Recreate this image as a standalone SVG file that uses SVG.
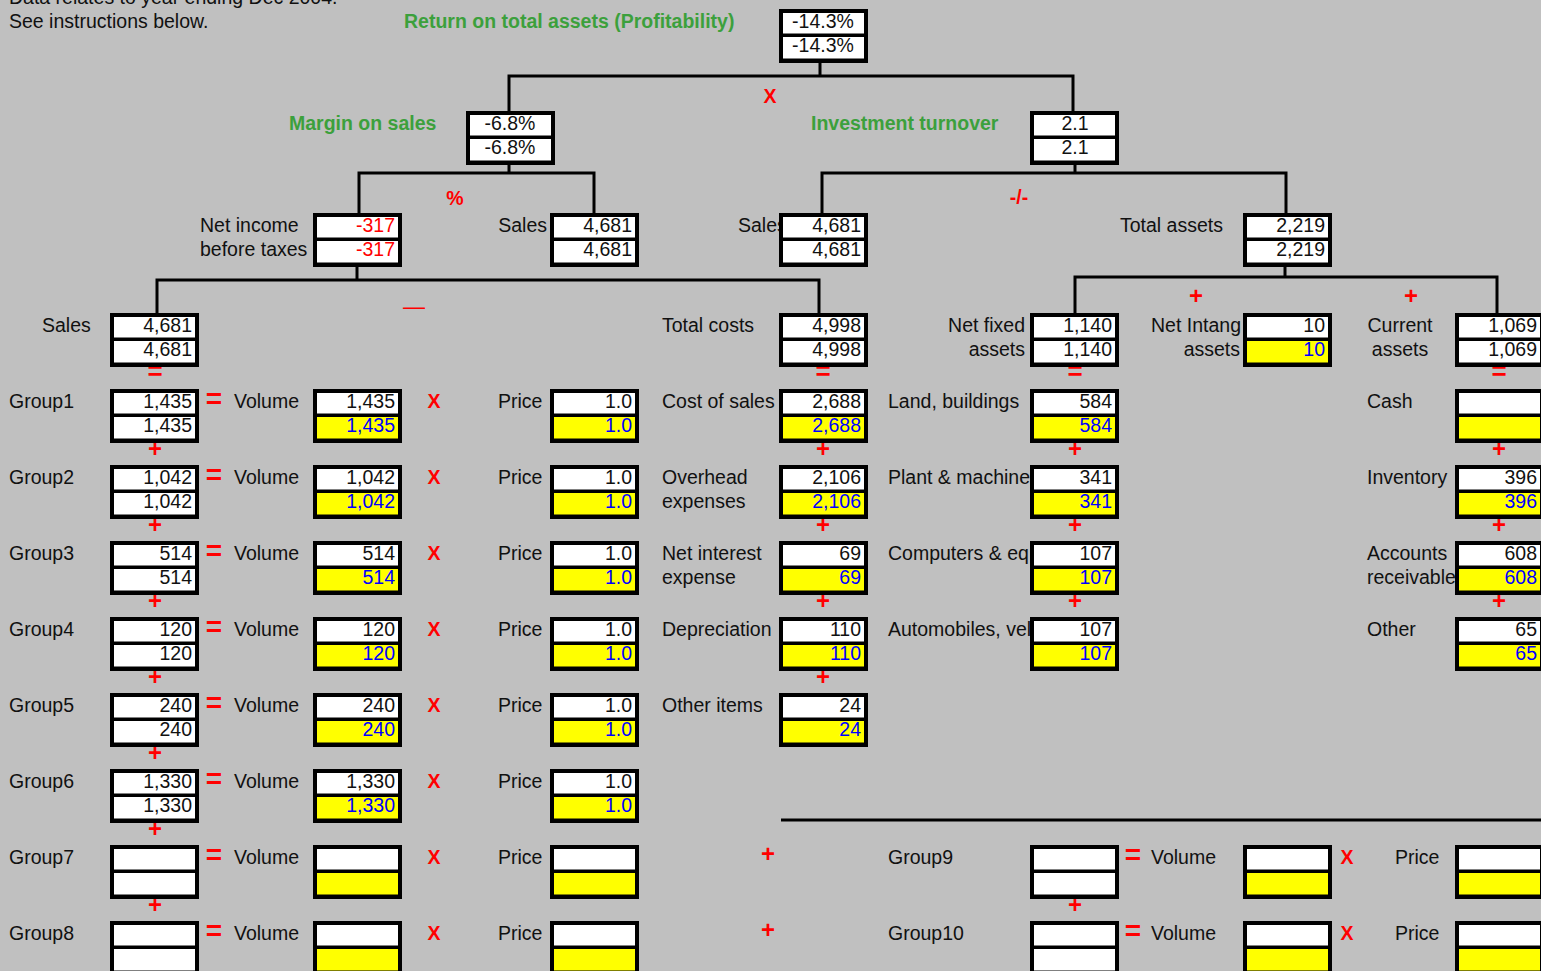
<svg xmlns="http://www.w3.org/2000/svg" width="1541" height="971" viewBox="0 0 1541 971">
<style>
text{font-family:"Liberation Sans",Arial,sans-serif;font-size:19.5px;fill:#111}
.fr{fill:#000}
.w{fill:#fff}
.y{fill:#ffff00}
.val{text-anchor:end}
.ctr{text-anchor:middle}
.blue{fill:#0000ff}
.red{fill:#ff0000}
.end{text-anchor:end}
.mid{text-anchor:middle}
.title{fill:#3ca03c;font-weight:bold}
.op{fill:#ff0000;font-weight:bold;text-anchor:middle}
.eq{font-size:28px}
.eqs{font-size:26px}
.pl{font-size:24px}
.conn{stroke:#000;stroke-width:3;fill:none}
</style>
<rect x="0" y="0" width="1541" height="971" fill="#c0c0c0"/>

<g id="header">
<text x="9" y="4">Data relates to year ending Dec 2004.</text>
<text x="9" y="28">See instructions below.</text>
<text class="title" x="404" y="28">Return on total assets (Profitability)</text>
<text class="title" x="289" y="130">Margin on sales</text>
<text class="title" x="811" y="130">Investment turnover</text>
</g>

<g id="connectors">
<path class="conn" d="M820,63 V76 M509,111 V76 H1073 V111"/>
<path class="conn" d="M509,164 V173 M359,213 V173 H594 V213"/>
<path class="conn" d="M1075,164 V173 M822,213 V173 H1286 V213"/>
<path class="conn" d="M357,266 V280 M157,313 V280 H819 V313"/>
<path class="conn" d="M1285,266 V277 M1075,313 V277 H1497 V313"/>
<path class="conn" d="M781,820 H1541"/>
</g>

<g id="operators">
<text class="op" x="770" y="103">X</text>
<text class="op" x="455" y="205">%</text>
<text class="op" x="1019" y="204">-/-</text>
<text class="op" x="414" y="314" style="font-size:22px;font-weight:normal">—</text>
<text class="op pl" x="1196" y="304">+</text>
<text class="op pl" x="1411" y="304">+</text>
<text class="op eqs" x="155" y="380">=</text>
<text class="op eqs" x="823" y="380">=</text>
<text class="op eqs" x="1075" y="380">=</text>
<text class="op eqs" x="1499" y="380">=</text>
<text class="op pl" x="155" y="457">+</text>
<text class="op pl" x="155" y="533">+</text>
<text class="op pl" x="155" y="609">+</text>
<text class="op pl" x="155" y="685">+</text>
<text class="op pl" x="155" y="761">+</text>
<text class="op pl" x="155" y="837">+</text>
<text class="op pl" x="155" y="913">+</text>
<text class="op pl" x="823" y="457">+</text>
<text class="op pl" x="823" y="533">+</text>
<text class="op pl" x="823" y="609">+</text>
<text class="op pl" x="823" y="685">+</text>
<text class="op pl" x="1075" y="457">+</text>
<text class="op pl" x="1075" y="533">+</text>
<text class="op pl" x="1075" y="609">+</text>
<text class="op pl" x="1075" y="913">+</text>
<text class="op pl" x="1499" y="457">+</text>
<text class="op pl" x="1499" y="533">+</text>
<text class="op pl" x="1499" y="609">+</text>
<text class="op pl" x="768" y="862">+</text>
<text class="op pl" x="768" y="938">+</text>
<text class="op eq" x="214" y="408">=</text>
<text class="op eq" x="214" y="484">=</text>
<text class="op eq" x="214" y="560">=</text>
<text class="op eq" x="214" y="636">=</text>
<text class="op eq" x="214" y="712">=</text>
<text class="op eq" x="214" y="788">=</text>
<text class="op eq" x="214" y="864">=</text>
<text class="op eq" x="214" y="940">=</text>
<text class="op eq" x="1133" y="864">=</text>
<text class="op eq" x="1133" y="940">=</text>
<text class="op" x="434" y="408">X</text>
<text class="op" x="434" y="484">X</text>
<text class="op" x="434" y="560">X</text>
<text class="op" x="434" y="636">X</text>
<text class="op" x="434" y="712">X</text>
<text class="op" x="434" y="788">X</text>
<text class="op" x="434" y="864">X</text>
<text class="op" x="434" y="940">X</text>
<text class="op" x="1347" y="864">X</text>
<text class="op" x="1347" y="940">X</text>
</g>

<!-- Level 0 -->
<g id="n-roa">
<rect class="fr" x="779" y="9" width="89" height="54"/><rect class="w" x="783" y="13" width="81" height="20.5"/><rect class="w" x="783" y="37" width="81" height="21.5"/>
<text class="ctr" x="823" y="28">-14.3%</text><text class="ctr" x="823" y="52">-14.3%</text>
</g>

<!-- Level 1 -->
<g id="n-margin">
<rect class="fr" x="466" y="111" width="89" height="54"/><rect class="w" x="470" y="115" width="81" height="20.5"/><rect class="w" x="470" y="139" width="81" height="21.5"/>
<text class="ctr" x="510" y="130">-6.8%</text><text class="ctr" x="510" y="154">-6.8%</text>
</g>
<g id="n-turnover">
<rect class="fr" x="1030" y="111" width="89" height="54"/><rect class="w" x="1034" y="115" width="81" height="20.5"/><rect class="w" x="1034" y="139" width="81" height="21.5"/>
<text class="ctr" x="1075" y="130">2.1</text><text class="ctr" x="1075" y="154">2.1</text>
</g>

<!-- Level 2 -->
<g id="n-netincome">
<text x="200" y="232">Net income</text><text x="200" y="256">before taxes</text>
<rect class="fr" x="313" y="213" width="89" height="54"/><rect class="w" x="317" y="217" width="81" height="20.5"/><rect class="w" x="317" y="241" width="81" height="21.5"/>
<text class="val red" x="395" y="232">-317</text><text class="val red" x="395" y="256">-317</text>
</g>
<g id="n-sales-a">
<text class="end" x="547" y="232">Sales</text>
<rect class="fr" x="550" y="213" width="89" height="54"/><rect class="w" x="554" y="217" width="81" height="20.5"/><rect class="w" x="554" y="241" width="81" height="21.5"/>
<text class="val" x="632" y="232">4,681</text><text class="val" x="632" y="256">4,681</text>
</g>
<g id="n-sales-b">
<text x="738" y="232">Sales</text>
<rect class="fr" x="779" y="213" width="89" height="54"/><rect class="w" x="783" y="217" width="81" height="20.5"/><rect class="w" x="783" y="241" width="81" height="21.5"/>
<text class="val" x="861" y="232">4,681</text><text class="val" x="861" y="256">4,681</text>
</g>
<g id="n-totalassets">
<text x="1120" y="232">Total assets</text>
<rect class="fr" x="1243" y="213" width="89" height="54"/><rect class="w" x="1247" y="217" width="81" height="20.5"/><rect class="w" x="1247" y="241" width="81" height="21.5"/>
<text class="val" x="1325" y="232">2,219</text><text class="val" x="1325" y="256">2,219</text>
</g>

<!-- Level 3 -->
<g id="n-sales">
<text x="42" y="332">Sales</text>
<rect class="fr" x="110" y="313" width="89" height="54"/><rect class="w" x="114" y="317" width="81" height="20.5"/><rect class="w" x="114" y="341" width="81" height="21.5"/>
<text class="val" x="192" y="332">4,681</text><text class="val" x="192" y="356">4,681</text>
</g>
<g id="n-totalcosts">
<text x="662" y="332">Total costs</text>
<rect class="fr" x="779" y="313" width="89" height="54"/><rect class="w" x="783" y="317" width="81" height="20.5"/><rect class="w" x="783" y="341" width="81" height="21.5"/>
<text class="val" x="861" y="332">4,998</text><text class="val" x="861" y="356">4,998</text>
</g>
<g id="n-netfixed">
<text class="end" x="1025" y="332">Net fixed</text><text class="end" x="1025" y="356">assets</text>
<rect class="fr" x="1030" y="313" width="89" height="54"/><rect class="w" x="1034" y="317" width="81" height="20.5"/><rect class="w" x="1034" y="341" width="81" height="21.5"/>
<text class="val" x="1112" y="332">1,140</text><text class="val" x="1112" y="356">1,140</text>
</g>
<g id="n-netintang">
<text x="1151" y="332">Net Intang</text><text class="end" x="1240" y="356">assets</text>
<rect class="fr" x="1243" y="313" width="89" height="54"/><rect class="w" x="1247" y="317" width="81" height="20.5"/><rect class="y" x="1247" y="341" width="81" height="21.5"/>
<text class="val" x="1325" y="332">10</text><text class="val blue" x="1325" y="356">10</text>
</g>
<g id="n-current">
<text class="mid" x="1400" y="332">Current</text><text class="mid" x="1400" y="356">assets</text>
<rect class="fr" x="1455" y="313" width="89" height="54"/><rect class="w" x="1459" y="317" width="81" height="20.5"/><rect class="w" x="1459" y="341" width="81" height="21.5"/>
<text class="val" x="1537" y="332">1,069</text><text class="val" x="1537" y="356">1,069</text>
</g>

<!-- Sales groups -->
<g id="n-group1">
<text x="9" y="408">Group1</text>
<rect class="fr" x="110" y="389" width="89" height="54"/><rect class="w" x="114" y="393" width="81" height="20.5"/><rect class="w" x="114" y="417" width="81" height="21.5"/>
<text class="val" x="192" y="408">1,435</text><text class="val" x="192" y="432">1,435</text>
</g>
<g id="n-volume1">
<text x="234" y="408">Volume</text>
<rect class="fr" x="313" y="389" width="89" height="54"/><rect class="w" x="317" y="393" width="81" height="20.5"/><rect class="y" x="317" y="417" width="81" height="21.5"/>
<text class="val" x="395" y="408">1,435</text><text class="val blue" x="395" y="432">1,435</text>
</g>
<g id="n-price1">
<text x="498" y="408">Price</text>
<rect class="fr" x="550" y="389" width="89" height="54"/><rect class="w" x="554" y="393" width="81" height="20.5"/><rect class="y" x="554" y="417" width="81" height="21.5"/>
<text class="val" x="632" y="408">1.0</text><text class="val blue" x="632" y="432">1.0</text>
</g>

<g id="n-group2">
<text x="9" y="484">Group2</text>
<rect class="fr" x="110" y="465" width="89" height="54"/><rect class="w" x="114" y="469" width="81" height="20.5"/><rect class="w" x="114" y="493" width="81" height="21.5"/>
<text class="val" x="192" y="484">1,042</text><text class="val" x="192" y="508">1,042</text>
</g>
<g id="n-volume2">
<text x="234" y="484">Volume</text>
<rect class="fr" x="313" y="465" width="89" height="54"/><rect class="w" x="317" y="469" width="81" height="20.5"/><rect class="y" x="317" y="493" width="81" height="21.5"/>
<text class="val" x="395" y="484">1,042</text><text class="val blue" x="395" y="508">1,042</text>
</g>
<g id="n-price2">
<text x="498" y="484">Price</text>
<rect class="fr" x="550" y="465" width="89" height="54"/><rect class="w" x="554" y="469" width="81" height="20.5"/><rect class="y" x="554" y="493" width="81" height="21.5"/>
<text class="val" x="632" y="484">1.0</text><text class="val blue" x="632" y="508">1.0</text>
</g>

<g id="n-group3">
<text x="9" y="560">Group3</text>
<rect class="fr" x="110" y="541" width="89" height="54"/><rect class="w" x="114" y="545" width="81" height="20.5"/><rect class="w" x="114" y="569" width="81" height="21.5"/>
<text class="val" x="192" y="560">514</text><text class="val" x="192" y="584">514</text>
</g>
<g id="n-volume3">
<text x="234" y="560">Volume</text>
<rect class="fr" x="313" y="541" width="89" height="54"/><rect class="w" x="317" y="545" width="81" height="20.5"/><rect class="y" x="317" y="569" width="81" height="21.5"/>
<text class="val" x="395" y="560">514</text><text class="val blue" x="395" y="584">514</text>
</g>
<g id="n-price3">
<text x="498" y="560">Price</text>
<rect class="fr" x="550" y="541" width="89" height="54"/><rect class="w" x="554" y="545" width="81" height="20.5"/><rect class="y" x="554" y="569" width="81" height="21.5"/>
<text class="val" x="632" y="560">1.0</text><text class="val blue" x="632" y="584">1.0</text>
</g>

<g id="n-group4">
<text x="9" y="636">Group4</text>
<rect class="fr" x="110" y="617" width="89" height="54"/><rect class="w" x="114" y="621" width="81" height="20.5"/><rect class="w" x="114" y="645" width="81" height="21.5"/>
<text class="val" x="192" y="636">120</text><text class="val" x="192" y="660">120</text>
</g>
<g id="n-volume4">
<text x="234" y="636">Volume</text>
<rect class="fr" x="313" y="617" width="89" height="54"/><rect class="w" x="317" y="621" width="81" height="20.5"/><rect class="y" x="317" y="645" width="81" height="21.5"/>
<text class="val" x="395" y="636">120</text><text class="val blue" x="395" y="660">120</text>
</g>
<g id="n-price4">
<text x="498" y="636">Price</text>
<rect class="fr" x="550" y="617" width="89" height="54"/><rect class="w" x="554" y="621" width="81" height="20.5"/><rect class="y" x="554" y="645" width="81" height="21.5"/>
<text class="val" x="632" y="636">1.0</text><text class="val blue" x="632" y="660">1.0</text>
</g>

<g id="n-group5">
<text x="9" y="712">Group5</text>
<rect class="fr" x="110" y="693" width="89" height="54"/><rect class="w" x="114" y="697" width="81" height="20.5"/><rect class="w" x="114" y="721" width="81" height="21.5"/>
<text class="val" x="192" y="712">240</text><text class="val" x="192" y="736">240</text>
</g>
<g id="n-volume5">
<text x="234" y="712">Volume</text>
<rect class="fr" x="313" y="693" width="89" height="54"/><rect class="w" x="317" y="697" width="81" height="20.5"/><rect class="y" x="317" y="721" width="81" height="21.5"/>
<text class="val" x="395" y="712">240</text><text class="val blue" x="395" y="736">240</text>
</g>
<g id="n-price5">
<text x="498" y="712">Price</text>
<rect class="fr" x="550" y="693" width="89" height="54"/><rect class="w" x="554" y="697" width="81" height="20.5"/><rect class="y" x="554" y="721" width="81" height="21.5"/>
<text class="val" x="632" y="712">1.0</text><text class="val blue" x="632" y="736">1.0</text>
</g>

<g id="n-group6">
<text x="9" y="788">Group6</text>
<rect class="fr" x="110" y="769" width="89" height="54"/><rect class="w" x="114" y="773" width="81" height="20.5"/><rect class="w" x="114" y="797" width="81" height="21.5"/>
<text class="val" x="192" y="788">1,330</text><text class="val" x="192" y="812">1,330</text>
</g>
<g id="n-volume6">
<text x="234" y="788">Volume</text>
<rect class="fr" x="313" y="769" width="89" height="54"/><rect class="w" x="317" y="773" width="81" height="20.5"/><rect class="y" x="317" y="797" width="81" height="21.5"/>
<text class="val" x="395" y="788">1,330</text><text class="val blue" x="395" y="812">1,330</text>
</g>
<g id="n-price6">
<text x="498" y="788">Price</text>
<rect class="fr" x="550" y="769" width="89" height="54"/><rect class="w" x="554" y="773" width="81" height="20.5"/><rect class="y" x="554" y="797" width="81" height="21.5"/>
<text class="val" x="632" y="788">1.0</text><text class="val blue" x="632" y="812">1.0</text>
</g>

<g id="n-group7">
<text x="9" y="864">Group7</text>
<rect class="fr" x="110" y="845" width="89" height="54"/><rect class="w" x="114" y="849" width="81" height="20.5"/><rect class="w" x="114" y="873" width="81" height="21.5"/>
</g>
<g id="n-volume7">
<text x="234" y="864">Volume</text>
<rect class="fr" x="313" y="845" width="89" height="54"/><rect class="w" x="317" y="849" width="81" height="20.5"/><rect class="y" x="317" y="873" width="81" height="21.5"/>
</g>
<g id="n-price7">
<text x="498" y="864">Price</text>
<rect class="fr" x="550" y="845" width="89" height="54"/><rect class="w" x="554" y="849" width="81" height="20.5"/><rect class="y" x="554" y="873" width="81" height="21.5"/>
</g>

<g id="n-group8">
<text x="9" y="940">Group8</text>
<rect class="fr" x="110" y="921" width="89" height="54"/><rect class="w" x="114" y="925" width="81" height="20.5"/><rect class="w" x="114" y="949" width="81" height="21.5"/>
</g>
<g id="n-volume8">
<text x="234" y="940">Volume</text>
<rect class="fr" x="313" y="921" width="89" height="54"/><rect class="w" x="317" y="925" width="81" height="20.5"/><rect class="y" x="317" y="949" width="81" height="21.5"/>
</g>
<g id="n-price8">
<text x="498" y="940">Price</text>
<rect class="fr" x="550" y="921" width="89" height="54"/><rect class="w" x="554" y="925" width="81" height="20.5"/><rect class="y" x="554" y="949" width="81" height="21.5"/>
</g>

<!-- Cost items -->
<g id="n-costofsales">
<text x="662" y="408">Cost of sales</text>
<rect class="fr" x="779" y="389" width="89" height="54"/><rect class="w" x="783" y="393" width="81" height="20.5"/><rect class="y" x="783" y="417" width="81" height="21.5"/>
<text class="val" x="861" y="408">2,688</text><text class="val blue" x="861" y="432">2,688</text>
</g>
<g id="n-overhead">
<text x="662" y="484">Overhead</text><text x="662" y="508">expenses</text>
<rect class="fr" x="779" y="465" width="89" height="54"/><rect class="w" x="783" y="469" width="81" height="20.5"/><rect class="y" x="783" y="493" width="81" height="21.5"/>
<text class="val" x="861" y="484">2,106</text><text class="val blue" x="861" y="508">2,106</text>
</g>
<g id="n-netinterest">
<text x="662" y="560">Net interest</text><text x="662" y="584">expense</text>
<rect class="fr" x="779" y="541" width="89" height="54"/><rect class="w" x="783" y="545" width="81" height="20.5"/><rect class="y" x="783" y="569" width="81" height="21.5"/>
<text class="val" x="861" y="560">69</text><text class="val blue" x="861" y="584">69</text>
</g>
<g id="n-depreciation">
<text x="662" y="636">Depreciation</text>
<rect class="fr" x="779" y="617" width="89" height="54"/><rect class="w" x="783" y="621" width="81" height="20.5"/><rect class="y" x="783" y="645" width="81" height="21.5"/>
<text class="val" x="861" y="636">110</text><text class="val blue" x="861" y="660">110</text>
</g>
<g id="n-otheritems">
<text x="662" y="712">Other items</text>
<rect class="fr" x="779" y="693" width="89" height="54"/><rect class="w" x="783" y="697" width="81" height="20.5"/><rect class="y" x="783" y="721" width="81" height="21.5"/>
<text class="val" x="861" y="712">24</text><text class="val blue" x="861" y="736">24</text>
</g>

<!-- Fixed assets -->
<g id="n-land">
<text x="888" y="408">Land, buildings</text>
<rect class="fr" x="1030" y="389" width="89" height="54"/><rect class="w" x="1034" y="393" width="81" height="20.5"/><rect class="y" x="1034" y="417" width="81" height="21.5"/>
<text class="val" x="1112" y="408">584</text><text class="val blue" x="1112" y="432">584</text>
</g>
<g id="n-plant">
<text x="888" y="484">Plant &amp; machine</text>
<rect class="fr" x="1030" y="465" width="89" height="54"/><rect class="w" x="1034" y="469" width="81" height="20.5"/><rect class="y" x="1034" y="493" width="81" height="21.5"/>
<text class="val" x="1112" y="484">341</text><text class="val blue" x="1112" y="508">341</text>
</g>
<g id="n-computers">
<text x="888" y="560">Computers &amp; eq</text>
<rect class="fr" x="1030" y="541" width="89" height="54"/><rect class="w" x="1034" y="545" width="81" height="20.5"/><rect class="y" x="1034" y="569" width="81" height="21.5"/>
<text class="val" x="1112" y="560">107</text><text class="val blue" x="1112" y="584">107</text>
</g>
<g id="n-automobiles">
<text x="888" y="636">Automobiles, vel</text>
<rect class="fr" x="1030" y="617" width="89" height="54"/><rect class="w" x="1034" y="621" width="81" height="20.5"/><rect class="y" x="1034" y="645" width="81" height="21.5"/>
<text class="val" x="1112" y="636">107</text><text class="val blue" x="1112" y="660">107</text>
</g>

<!-- Current assets -->
<g id="n-cash">
<text x="1367" y="408">Cash</text>
<rect class="fr" x="1455" y="389" width="89" height="54"/><rect class="w" x="1459" y="393" width="81" height="20.5"/><rect class="y" x="1459" y="417" width="81" height="21.5"/>
</g>
<g id="n-inventory">
<text x="1367" y="484">Inventory</text>
<rect class="fr" x="1455" y="465" width="89" height="54"/><rect class="w" x="1459" y="469" width="81" height="20.5"/><rect class="y" x="1459" y="493" width="81" height="21.5"/>
<text class="val" x="1537" y="484">396</text><text class="val blue" x="1537" y="508">396</text>
</g>
<g id="n-receivable">
<text x="1367" y="560">Accounts</text><text x="1367" y="584">receivable</text>
<rect class="fr" x="1455" y="541" width="89" height="54"/><rect class="w" x="1459" y="545" width="81" height="20.5"/><rect class="y" x="1459" y="569" width="81" height="21.5"/>
<text class="val" x="1537" y="560">608</text><text class="val blue" x="1537" y="584">608</text>
</g>
<g id="n-other">
<text x="1367" y="636">Other</text>
<rect class="fr" x="1455" y="617" width="89" height="54"/><rect class="w" x="1459" y="621" width="81" height="20.5"/><rect class="y" x="1459" y="645" width="81" height="21.5"/>
<text class="val" x="1537" y="636">65</text><text class="val blue" x="1537" y="660">65</text>
</g>

<!-- Group 9 / 10 -->
<g id="n-group9">
<text x="888" y="864">Group9</text>
<rect class="fr" x="1030" y="845" width="89" height="54"/><rect class="w" x="1034" y="849" width="81" height="20.5"/><rect class="w" x="1034" y="873" width="81" height="21.5"/>
</g>
<g id="n-volume9">
<text x="1151" y="864">Volume</text>
<rect class="fr" x="1243" y="845" width="89" height="54"/><rect class="w" x="1247" y="849" width="81" height="20.5"/><rect class="y" x="1247" y="873" width="81" height="21.5"/>
</g>
<g id="n-price9">
<text x="1395" y="864">Price</text>
<rect class="fr" x="1455" y="845" width="89" height="54"/><rect class="w" x="1459" y="849" width="81" height="20.5"/><rect class="y" x="1459" y="873" width="81" height="21.5"/>
</g>
<g id="n-group10">
<text x="888" y="940">Group10</text>
<rect class="fr" x="1030" y="921" width="89" height="54"/><rect class="w" x="1034" y="925" width="81" height="20.5"/><rect class="w" x="1034" y="949" width="81" height="21.5"/>
</g>
<g id="n-volume10">
<text x="1151" y="940">Volume</text>
<rect class="fr" x="1243" y="921" width="89" height="54"/><rect class="w" x="1247" y="925" width="81" height="20.5"/><rect class="y" x="1247" y="949" width="81" height="21.5"/>
</g>
<g id="n-price10">
<text x="1395" y="940">Price</text>
<rect class="fr" x="1455" y="921" width="89" height="54"/><rect class="w" x="1459" y="925" width="81" height="20.5"/><rect class="y" x="1459" y="949" width="81" height="21.5"/>
</g>
</svg>
